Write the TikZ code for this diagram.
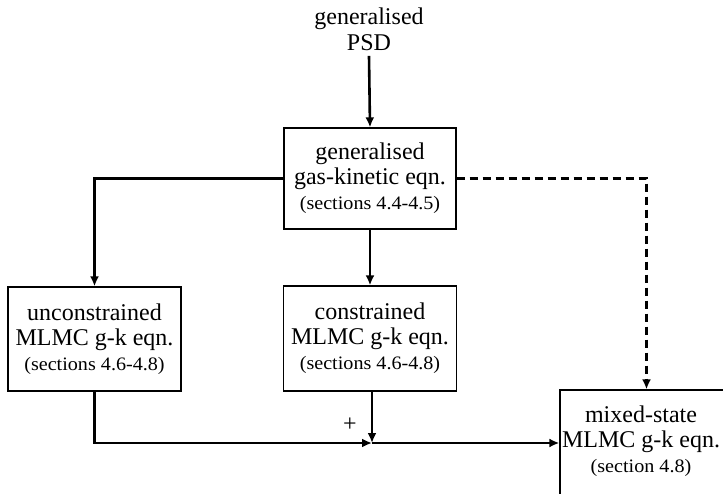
\documentclass[tikz,border=0pt]{standalone}
\usepackage{fontspec}
\setmainfont{Liberation Serif}
\newfontfamily\notefont[FakeStretch=1.06]{Liberation Serif}
\usetikzlibrary{arrows.meta}
\tikzset{
  x=1pt, y=-1pt,
  box/.style={draw, line width=1.3pt, minimum width=172pt, align=center,
    inner sep=0pt, font=\fontsize{24}{25}\selectfont},
  flow/.style={line width=2.6pt, -{Latex[length=10pt,width=9pt]}},
  dashflow/.style={flow, dash pattern=on 8pt off 5pt},
  label/.style={align=center, font=\fontsize{24}{26}\selectfont}
}
\newcommand{\secnote}[1]{{\notefont\fontsize{19}{22}\selectfont #1}}
\begin{document}
\begin{tikzpicture}
\useasboundingbox (0,0) rectangle (723,494);
\node[label] (psd) at (369,29) {generalised\\PSD};
\node[box, minimum height=101pt] (gk) at (370,178.5)
  {generalised\\gas-kinetic eqn.\\\secnote{(sections 4.4-4.5)}};
\node[box, minimum width=173pt, minimum height=104pt] (unc) at (94.5,339)
  {unconstrained\\MLMC g-k eqn.\\\secnote{(sections 4.6-4.8)}};
\node[box, minimum width=173pt, minimum height=105pt] (con) at (370,338.5)
  {constrained\\MLMC g-k eqn.\\\secnote{(sections 4.6-4.8)}};
% the mixed-state box runs past the page edge, so its text sits left of centre
\node[box, minimum width=173pt, minimum height=106pt] (mix) at (646.5,443) {};
\node[label, font=\fontsize{24}{25}\selectfont] (mixtext) at (641,441)
  {mixed-state\\MLMC g-k eqn.\\\secnote{(section 4.8)}};
\coordinate (join) at (372,443);
\draw[flow] ([yshift=-2pt]psd.south) -- (gk.north);
\draw[flow] (gk.west) -| (unc.north);
\draw[flow] (gk.south) -- (con.north);
\draw[dashflow] (gk.east) -| (mix.north);
\draw[flow] (unc.south) |- (join);
\draw[flow] (con.south -| join) -- (join);
\draw[flow] (join) -- (mix.west);
\node[label, anchor=center] (plus) at (350,425) {+};
\end{tikzpicture}
\end{document}
